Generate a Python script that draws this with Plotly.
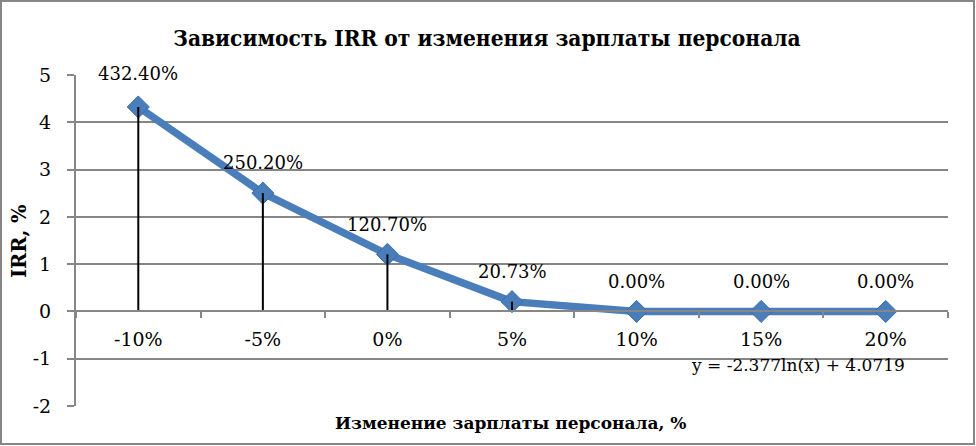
import plotly.graph_objects as go

categories = ["-10%", "-5%", "0%", "5%", "10%", "15%", "20%"]
irr_values = [4.324, 2.502, 1.207, 0.2073, 0.0, 0.0, 0.0]
label_shift = [33, 31, 30, 30, 30, 30, 30]
y_tick_values = [-2, -1, 0, 1, 2, 3, 4, 5]
y_tick_labels = ["-2", "-1", "0", "1", "2", "3", "4", "5"]
trend_text = "y = -2.377ln(x) + 4.0719"
title_text = "Зависимость IRR от изменения зарплаты персонала"
x_title = "Изменение зарплаты персонала, %"
y_title = "IRR, %"

W, H = 976, 446
L, R, T, B = 76, 28, 75, 40
PW, PH = W - L - R, H - T - B

def px(xpix):
    return (xpix - L) / PW

def py(ypix):
    return (H - B - ypix) / PH

GRID = "#868686"
BLUE = "#4A7EBB"
SERIF = "DejaVu Serif"

fig = go.Figure()

fig.add_trace(go.Scatter(
    x=categories, y=irr_values, mode="lines+markers",
    line=dict(color=BLUE, width=7.5),
    marker=dict(symbol="diamond", size=17, color=BLUE,
                line=dict(color="#3B6CA8", width=1)),
    showlegend=False, hoverinfo="skip",
))

drop_x, drop_y = [], []
for c, v in zip(categories, irr_values):
    drop_x += [c, c, None]
    drop_y += [v, 0, None]
fig.add_trace(go.Scatter(
    x=drop_x, y=drop_y, mode="lines",
    line=dict(color="black", width=2),
    showlegend=False, hoverinfo="skip",
))

for c, v, s in zip(categories, irr_values, label_shift):
    fig.add_annotation(
        x=c, y=v, xref="x", yref="y", text=f"{v*100:.2f}%",
        showarrow=False, yshift=s,
        font=dict(family=SERIF, size=18, color="black"),
    )

fig.add_annotation(
    x=px(798), y=py(365), xref="paper", yref="paper", text=trend_text,
    showarrow=False, xanchor="center", yanchor="middle",
    font=dict(family=SERIF, size=17, color="black"),
)
fig.add_annotation(
    x=px(511), y=py(423), xref="paper", yref="paper", text=f"<b>{x_title}</b>",
    showarrow=False, xanchor="center", yanchor="middle",
    font=dict(family=SERIF, size=17, color="black"),
)
fig.add_annotation(
    x=px(19), y=py(241), xref="paper", yref="paper", text=f"<b>{y_title}</b>",
    showarrow=False, xanchor="center", yanchor="middle", textangle=-90,
    font=dict(family=SERIF, size=19.5, color="black"),
)

fig.add_shape(
    type="rect", xref="paper", yref="paper",
    x0=px(1), x1=px(974), y0=py(444), y1=py(1),
    line=dict(color=GRID, width=2), fillcolor="rgba(0,0,0,0)", layer="below",
)

fig.update_layout(
    width=W, height=H,
    margin=dict(l=L, r=R, t=T, b=B),
    paper_bgcolor="white", plot_bgcolor="white",
    title=dict(text=f"<b>{title_text}</b>", x=487 / W, y=1 - 38 / H,
               xref="container", yref="container",
               xanchor="center", yanchor="middle",
               font=dict(family="DejaVu Serif Condensed", size=22.5, color="black")),
    xaxis=dict(
        type="category", range=[-0.5, len(categories) - 0.5],
        anchor="free", position=2 / 7,
        showline=True, linecolor=GRID, linewidth=2,
        ticks="outside", tickson="boundaries", ticklen=6,
        tickcolor=GRID, tickwidth=2,
        showgrid=False, zeroline=False,
        ticklabelstandoff=11,
        tickfont=dict(family=SERIF, size=19, color="black"),
    ),
    yaxis=dict(
        range=[-2, 5], tickmode="array",
        tickvals=y_tick_values, ticktext=y_tick_labels,
        showgrid=True, gridcolor=GRID, gridwidth=2,
        showline=True, linecolor=GRID, linewidth=2,
        ticks="outside", ticklen=7, tickcolor=GRID, tickwidth=2,
        zeroline=False, ticklabelstandoff=12,
        tickfont=dict(family=SERIF, size=19, color="black"),
    ),
)

fig.write_html("out.html")
